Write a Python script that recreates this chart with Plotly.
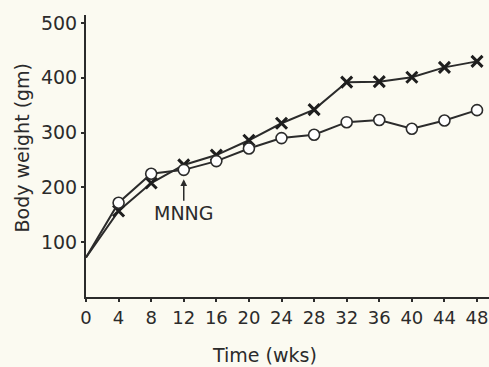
import plotly.graph_objects as go

weeks = [0, 4, 8, 12, 16, 20, 24, 28, 32, 36, 40, 44, 48]
circle_series = [72, 172, 225, 232, 248, 271, 290, 296, 319, 323, 307, 322, 341]
cross_series = [72, 157, 208, 241, 259, 286, 317, 342, 392, 393, 401, 419, 430]
x_ticks = [0, 4, 8, 12, 16, 20, 24, 28, 32, 36, 40, 44, 48]
y_ticks = [100, 200, 300, 400, 500]

BG = "#fbfaf1"
INK = "#2b2b2b"
FONT = "DejaVu Sans"

cross_sizes = [0] + [11] * (len(weeks) - 1)
circle_sizes = [0] + [11] * (len(weeks) - 1)

fig = go.Figure()
fig.add_trace(go.Scatter(
    x=weeks, y=cross_series, mode="lines+markers",
    line=dict(color=INK, width=2),
    marker=dict(symbol="x-thin", size=cross_sizes, color=INK, opacity=1,
                line=dict(color="#1e1e1e", width=3)),
    showlegend=False,
))
fig.add_trace(go.Scatter(
    x=weeks, y=circle_series, mode="lines+markers",
    line=dict(color=INK, width=2),
    marker=dict(symbol="circle", size=circle_sizes, color="#ffffff", opacity=1,
                line=dict(color=INK, width=1.6)),
    showlegend=False,
))

fig.add_annotation(
    x=12, y=215, xref="x", yref="y", text="MNNG",
    showarrow=True, ax=0, ay=34, arrowhead=2, arrowsize=0.9,
    arrowwidth=1.5, arrowcolor=INK,
    font=dict(family=FONT, size=19, color=INK),
)
fig.add_annotation(
    x=-0.159, y=0.53, xref="paper", yref="paper", text="Body weight (gm)",
    textangle=-90, showarrow=False, xanchor="center", yanchor="middle",
    font=dict(family=FONT, size=19, color=INK),
)
fig.add_annotation(
    x=0.442, y=-0.207, xref="paper", yref="paper", text="Time (wks)",
    showarrow=False, xanchor="center", yanchor="middle",
    font=dict(family=FONT, size=19, color=INK),
)

fig.update_xaxes(
    range=[0, 49.47], tickvals=x_ticks, ticktext=[str(v) for v in x_ticks],
    showgrid=False, zeroline=False, showline=True, linecolor=INK, linewidth=2,
    ticks="outside", ticklen=3, tickcolor=INK, tickwidth=1.5,
    tickfont=dict(family=FONT, size=18, color=INK),
)
fig.update_yaxes(
    range=[0, 514.6], tickvals=y_ticks, ticktext=[str(v) for v in y_ticks],
    showgrid=False, zeroline=False, showline=True, linecolor=INK, linewidth=2,
    ticks="outside", ticklen=3, tickcolor=INK, tickwidth=1.5,
    tickfont=dict(family=FONT, size=19, color=INK),
)
fig.update_layout(
    width=489, height=367,
    margin=dict(l=86, r=0, t=15, b=70),
    paper_bgcolor=BG, plot_bgcolor=BG,
)
fig.write_html(
    "out.html",
    config={"displayModeBar": False},
    post_script="document.body.style.margin='0';document.body.style.background='" + BG + "';",
)
